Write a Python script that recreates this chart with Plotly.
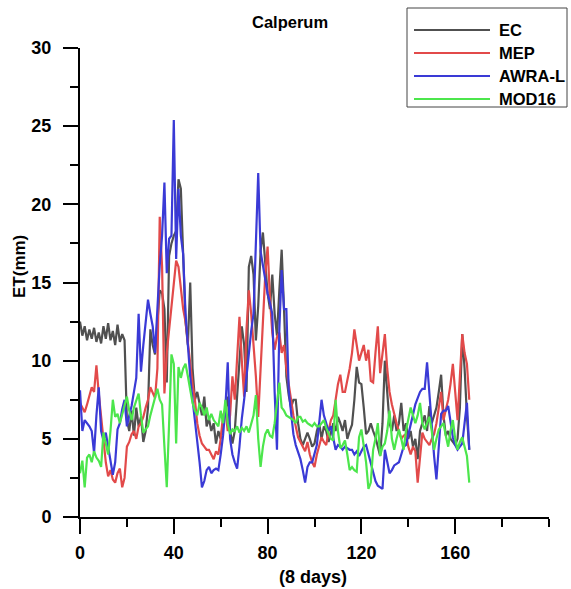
import plotly.graph_objects as go

# ---- data ----
period = list(range(167))

ec = [12.5, 11.6, 12.2, 11.3, 12.0, 11.4, 12.1, 11.2, 11.8, 11.1,
      12.2, 11.4, 12.4, 11.3, 11.9, 11.0, 12.3, 11.2, 11.7, 11.3,
      6.2, 5.5, 6.8, 5.2, 7.0, 5.8, 6.4, 4.8, 5.5, 7.0,
      12.0, 11.0, 10.4, 12.5, 14.5, 14.3, 13.3, 8.6, 16.7, 17.5,
      18.0, 18.3, 21.6, 21.0, 16.8, 12.5, 11.0, 15.0, 9.5, 7.5,
      8.0, 7.2, 6.5, 7.7, 5.8, 6.3, 5.5, 6.0, 4.7, 5.5,
      5.0, 6.0, 7.0, 7.7, 5.5, 4.7, 5.5, 7.6, 10.3, 12.2,
      11.0, 8.0, 16.0, 16.7, 15.5, 11.3, 13.5, 17.0, 18.2, 16.0,
      14.3, 13.3, 15.5, 13.0, 11.6, 14.5, 17.1, 13.3, 9.0, 7.8,
      7.0, 7.5, 7.5, 6.0, 5.0, 4.6, 5.0, 5.4, 5.0, 4.5,
      4.7, 5.5, 6.0, 5.0, 5.8, 5.5, 4.8, 5.4, 6.0, 5.5,
      6.4, 6.0, 5.5, 6.2, 5.0, 5.5, 5.9, 7.5, 9.6, 8.6,
      8.5, 7.0, 5.3, 5.5, 6.0, 5.5, 5.1, 4.5, 3.9, 6.0,
      10.0, 8.0, 6.0, 5.5, 6.5, 5.5, 6.0, 7.3, 5.5, 6.0,
      5.0, 5.5, 4.5, 5.0, 3.7, 5.5, 6.0, 6.5, 5.5, 7.1,
      6.0, 6.5, 7.0, 8.0, 9.1, 6.5, 5.2, 5.5, 5.0, 4.8,
      4.6, 5.0, 7.0, 11.7, 9.5, 6.5, 4.3]

mep = [7.3, 7.0, 6.7, 7.2, 7.7, 8.3, 8.0, 9.7, 7.9, 6.5,
       4.7, 3.5, 2.6, 3.0, 2.4, 2.2, 2.8, 3.1, 1.9, 2.5,
       4.5, 4.8, 5.3, 5.5, 5.0, 5.8, 6.0, 6.4, 7.0, 7.5,
       8.3, 8.0, 7.6, 9.5, 19.2, 16.0, 7.9, 10.5, 12.0, 13.6,
       15.0, 16.4, 16.0, 14.5, 13.3, 12.5, 11.2, 9.5, 8.5, 7.5,
       6.0, 5.2, 4.7, 4.5, 4.3, 4.3, 4.0, 3.7, 4.2, 4.0,
       5.0, 6.5, 6.9, 5.5, 6.5, 9.0, 7.5, 10.5, 12.8, 10.0,
       7.7, 12.0, 14.5, 13.0, 11.2, 9.0, 6.4, 9.5, 12.4, 15.5,
       17.3, 14.0, 11.8, 10.7, 11.5, 11.8, 10.5, 11.0, 9.5, 8.6,
       7.5, 6.5, 5.8, 5.1, 4.8, 4.5, 4.2, 4.8, 4.0, 3.5,
       3.2, 4.0, 4.5, 5.1, 4.8, 4.6, 5.5, 6.2, 6.5, 7.5,
       8.5, 9.1, 8.0, 8.0, 8.7, 9.5, 10.5, 12.0, 11.0, 10.0,
       10.5, 11.0, 10.0, 10.7, 8.7, 8.6, 10.5, 12.2, 9.2, 10.5,
       11.7, 9.5, 8.0, 7.2, 6.5, 6.0, 5.5, 5.0, 5.2, 5.3,
       4.5, 4.0, 4.5, 4.2, 2.2, 4.0, 5.4, 5.0, 4.8, 4.6,
       5.0, 5.3, 6.0, 7.0, 8.0, 6.2, 6.8, 7.5, 8.5, 9.8,
       8.0, 6.2, 9.0, 11.7, 10.5, 9.8, 7.5]

awra = [8.1, 5.5, 6.2, 6.0, 5.8, 5.5, 4.1, 6.5, 8.3, 5.5,
        4.9, 5.4, 4.5, 3.5, 2.7, 3.5, 5.6, 6.0, 6.9, 7.5,
        5.8, 6.5, 7.1, 8.0, 8.9, 13.0, 9.3, 11.0, 12.5, 13.9,
        13.0, 12.2, 10.5, 13.5, 16.1, 18.0, 21.4, 15.6, 17.8, 18.0,
        25.4, 16.5, 21.0, 18.0, 16.8, 13.0, 10.9, 9.0, 7.5, 6.2,
        5.0, 3.5, 1.9, 2.3, 3.0, 3.2, 2.8, 3.0, 3.1, 3.0,
        4.0, 5.2, 7.0, 9.9, 5.0, 4.0, 3.5, 3.1, 4.5, 6.3,
        7.5, 9.1, 10.5, 11.9, 13.0, 17.0, 22.0, 17.0, 16.0, 15.0,
        14.3, 13.7, 13.0, 8.0, 4.3, 12.0, 15.8, 13.3, 13.3, 8.1,
        6.5, 5.3, 4.6, 4.2, 3.7, 3.0, 2.2, 3.2, 3.5, 3.5,
        4.0, 4.6, 6.0, 7.5, 6.5, 6.0, 5.5, 5.8, 5.0, 4.3,
        4.6, 4.5, 4.3, 4.5, 4.4, 4.3, 4.3, 4.0, 4.2, 3.9,
        4.2, 4.5, 4.6, 4.0, 3.5, 2.8, 2.3, 2.0, 1.9, 1.8,
        4.3, 3.5, 2.8, 3.0, 3.3, 3.4, 3.5, 4.0, 4.5, 4.6,
        5.3, 6.0, 6.5, 7.2, 7.6, 8.0, 8.2, 8.2, 9.9, 7.8,
        5.5, 3.9, 2.4, 4.5, 6.6, 6.8, 6.8, 7.1, 6.0, 5.1,
        4.6, 4.3, 4.5, 4.7, 6.0, 7.3, 4.3]

mod16 = [2.8, 3.6, 1.9, 3.8, 4.0, 3.5, 4.2, 3.8, 3.6, 3.2,
         5.4, 4.7, 4.0, 5.5, 7.5, 6.4, 6.6, 6.0, 6.6, 7.2,
         7.7, 6.8, 6.2, 7.0, 7.5, 7.9, 6.5, 5.4, 5.6, 5.8,
         6.5, 7.1, 7.6, 8.2, 7.5, 7.2, 4.5, 1.9, 6.0, 10.4,
         9.8, 4.7, 9.6, 8.9, 9.5, 9.8, 9.0, 8.0, 7.3, 6.8,
         6.5, 7.3, 7.0, 6.5, 7.0, 6.2, 6.6, 6.2, 6.0, 5.8,
         6.8, 6.0, 7.5, 6.0, 5.3, 5.6, 5.5, 5.8, 5.4, 5.7,
         5.5, 5.8, 5.4, 6.0, 6.5, 7.8, 5.0, 3.2, 4.5, 5.3,
         5.6, 5.2, 5.1, 6.0, 7.5, 8.6, 7.0, 6.8, 6.5, 6.4,
         6.3, 6.2, 6.0, 6.4, 6.4, 6.1, 6.2, 6.0, 5.9, 5.8,
         6.0, 5.8, 5.8, 6.0, 6.2, 5.7, 5.3, 5.0, 4.9, 7.5,
         5.5, 4.4, 4.6, 4.9, 4.0, 3.0, 3.2, 3.0, 2.9, 5.1,
         5.6, 4.5, 3.5, 1.8, 2.2, 4.3, 5.0, 6.0, 3.9, 4.5,
         4.7, 5.5, 6.8, 5.0, 4.3, 5.0, 5.6, 5.0, 4.3, 5.5,
         6.2, 7.0, 6.5, 6.0, 6.5, 7.3, 6.0, 5.6, 6.0, 6.4,
         5.5, 4.3, 5.0, 5.6, 5.8, 6.0, 5.2, 4.5, 5.5, 6.2,
         5.0, 4.3, 4.8, 5.1, 4.5, 3.9, 2.2]

series_names = ["EC", "MEP", "AWRA-L", "MOD16"]
series_values = [ec, mep, awra, mod16]
series_colors = ["#505050", "#e24a4a", "#3a3ad6", "#4ce64c"]

x_ticks = [0, 40, 80, 120, 160]
y_ticks = [0, 5, 10, 15, 20, 25, 30]

FONT = "Liberation Sans, Arial, sans-serif"

fig = go.Figure()
for name, vals, col in zip(series_names, series_values, series_colors):
    fig.add_trace(go.Scatter(x=period, y=vals, mode="lines", name=name,
                             line=dict(color=col, width=2.2), showlegend=False))

# plot-area geometry (pixels)
L, R, T, B = 80, 549, 48, 517
W, H = 571, 589
def px(xp):
    return (xp - L) / (R - L)
def py(yp):
    return (B - yp) / (B - T)

axis_common = dict(showline=True, linecolor="black", linewidth=2, mirror=False,
                   showgrid=False, zeroline=False, ticks="outside", ticklen=15,
                   tickwidth=2, tickcolor="black",
                   tickfont=dict(family=FONT, size=18, color="black", weight="bold"))

fig.update_xaxes(range=[0, 200], tickvals=x_ticks, ticklabelstandoff=3,
                 minor=dict(dtick=20, tick0=0, ticks="outside", ticklen=8,
                            tickwidth=2, tickcolor="black"),
                 **axis_common)
fig.update_yaxes(range=[0, 30], tickvals=y_ticks, ticklabelstandoff=8,
                 minor=dict(dtick=2.5, tick0=0, ticks="outside", ticklen=8,
                            tickwidth=2, tickcolor="black"),
                 **axis_common)

annotations = [
    dict(text="<b>Calperum</b>", x=px(290), y=py(22), xref="paper", yref="paper",
         xanchor="center", yanchor="middle",
         showarrow=False, font=dict(family=FONT, size=16.5, color="black")),
    dict(text="<b>ET(mm)</b>", x=px(19), y=py(267), xref="paper", yref="paper",
         xanchor="center", yanchor="middle",
         showarrow=False, textangle=-90, font=dict(family=FONT, size=17, color="black")),
    dict(text="<b>(8 days)</b>", x=px(313), y=py(577), xref="paper", yref="paper",
         xanchor="center", yanchor="middle",
         showarrow=False, font=dict(family=FONT, size=18, color="black")),
]

# legend box
shapes = [dict(type="rect", xref="paper", yref="paper",
               x0=px(407), x1=px(567), y0=py(107), y1=py(8),
               line=dict(color="#444444", width=1), fillcolor="white", layer="above")]
row_y = [30, 53, 76, 99]
for name, col, ry in zip(series_names, series_colors, row_y):
    shapes.append(dict(type="line", xref="paper", yref="paper",
                       x0=px(414), x1=px(490), y0=py(ry), y1=py(ry),
                       line=dict(color=col, width=2.2), layer="above"))
    annotations.append(dict(text="<b>%s</b>" % name, x=px(497), y=py(ry),
                            xref="paper", yref="paper", xanchor="left",
                            yanchor="middle", showarrow=False,
                            font=dict(family=FONT, size=16.5, color="black")))

fig.update_layout(width=W, height=H,
                  margin=dict(l=L, r=W - R, t=T, b=H - B, pad=0),
                  paper_bgcolor="white", plot_bgcolor="white",
                  annotations=annotations, shapes=shapes, showlegend=False)

fig.write_html("out.html")
